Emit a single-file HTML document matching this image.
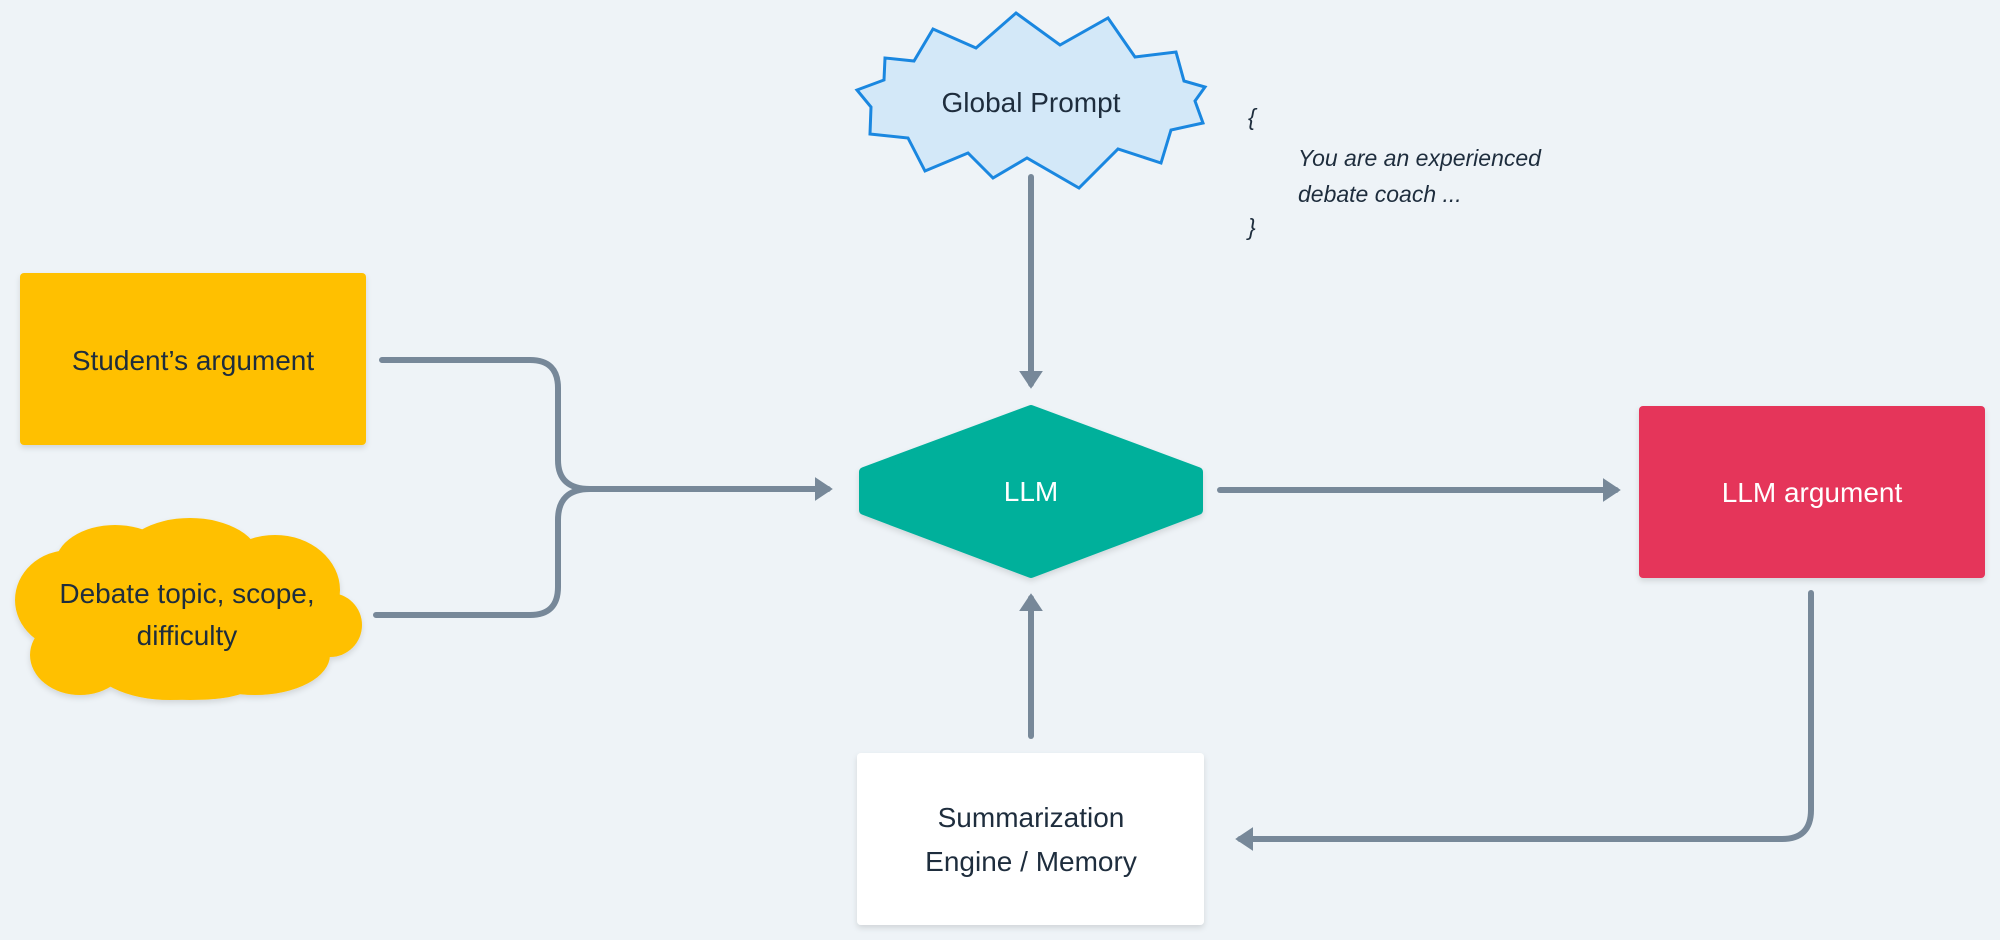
<!DOCTYPE html>
<html><head><meta charset="utf-8"><style>
html,body{margin:0;padding:0;background:#eef3f7;}
svg{display:block}
text{font-family:"Liberation Sans",sans-serif;}
</style></head><body>
<svg width="2000" height="940" viewBox="0 0 2000 940" xmlns="http://www.w3.org/2000/svg">
<defs>
<filter id="sh" x="-10%" y="-10%" width="120%" height="130%"><feDropShadow dx="0" dy="3" stdDeviation="3" flood-color="#000" flood-opacity="0.12"/></filter>
<marker id="ar" markerWidth="4" markerHeight="4" refX="2.2" refY="2" orient="auto" markerUnits="strokeWidth"><path d="M0,0 L3,2 L0,4 Z" fill="#778899"/></marker>
</defs>
<rect width="2000" height="940" fill="#eef3f7"/>

<!-- Student's argument -->
<rect x="20" y="273" width="346" height="172" rx="4" fill="#ffc000" filter="url(#sh)"/>
<text x="193" y="370" font-size="28" fill="#1e2d3d" text-anchor="middle">Student’s argument</text>

<!-- Cloud -->
<g fill="#ffc000" filter="url(#sh)">
<ellipse cx="70" cy="600" rx="55" ry="50"/>
<ellipse cx="115" cy="565" rx="60" ry="40"/>
<ellipse cx="190" cy="560" rx="70" ry="42"/>
<ellipse cx="275" cy="590" rx="65" ry="55"/>
<ellipse cx="330" cy="625" rx="32" ry="32"/>
<ellipse cx="80" cy="655" rx="50" ry="40"/>
<ellipse cx="170" cy="660" rx="80" ry="40"/>
<ellipse cx="190" cy="690" rx="55" ry="10"/>
<ellipse cx="255" cy="655" rx="75" ry="40"/>
<ellipse cx="180" cy="615" rx="150" ry="60"/>
</g>
<text x="187" y="603" font-size="28" fill="#1e2d3d" text-anchor="middle">Debate topic, scope,</text>
<text x="187" y="645" font-size="28" fill="#1e2d3d" text-anchor="middle">difficulty</text>

<!-- merge connector -->
<g fill="none" stroke="#778899" stroke-width="6" stroke-linecap="round">
<path d="M382 360 H530 Q558 360 558 388 V460 Q558 489 590 489"/>
<path d="M376 615 H530 Q558 615 558 587 V520 Q558 489 590 489"/>
<path d="M588 489 H828" marker-end="url(#ar)"/>
</g>

<!-- Global prompt -->
<polygon points="1016,13 1060,45 1108,18 1135,57 1176,52 1184,81 1205,87 1195,101 1203,123 1171,130 1161,163 1118,149 1079,188 1027,158 993,178 968,153 925,171 908,138 870,134 871,107 857,90 884,80 885,58 914,61 933,29 976,48" fill="#d3e8f8" stroke="#1a87e0" stroke-width="3" stroke-linejoin="miter"/>
<text x="1031" y="112" font-size="28" fill="#1e2d3d" text-anchor="middle">Global Prompt</text>

<g font-size="23" font-style="italic" fill="#1e2d3d">
<text x="1248" y="125">{</text>
<text x="1298" y="166">You are an experienced</text>
<text x="1298" y="202">debate coach ...</text>
<text x="1248" y="235">}</text>
</g>

<!-- arrows into LLM -->
<g fill="none" stroke="#778899" stroke-width="6" stroke-linecap="round">
<path d="M1031 177 V384" marker-end="url(#ar)"/>
<path d="M1031 736 V598" marker-end="url(#ar)"/>
<path d="M1220 490 H1616" marker-end="url(#ar)"/>
<path d="M1811 593 V810 Q1811 839 1782 839 H1240" marker-end="url(#ar)"/>
</g>

<!-- LLM hexagon -->
<polygon points="1031,410 1198,472 1198,510 1031,573 864,510 864,472" fill="#00b09b" stroke="#00b09b" stroke-width="10" stroke-linejoin="round" filter="url(#sh)"/>
<text x="1031" y="501" font-size="28" fill="#ffffff" text-anchor="middle">LLM</text>

<!-- LLM argument -->
<rect x="1639" y="406" width="346" height="172" rx="4" fill="#e5345a" filter="url(#sh)"/>
<text x="1812" y="502" font-size="28" fill="#ffffff" text-anchor="middle">LLM argument</text>

<!-- Summarization -->
<rect x="857" y="753" width="347" height="172" rx="4" fill="#ffffff" filter="url(#sh)"/>
<text x="1031" y="827" font-size="28" fill="#1e2d3d" text-anchor="middle">Summarization</text>
<text x="1031" y="871" font-size="28" fill="#1e2d3d" text-anchor="middle">Engine / Memory</text>
</svg>
</body></html>
